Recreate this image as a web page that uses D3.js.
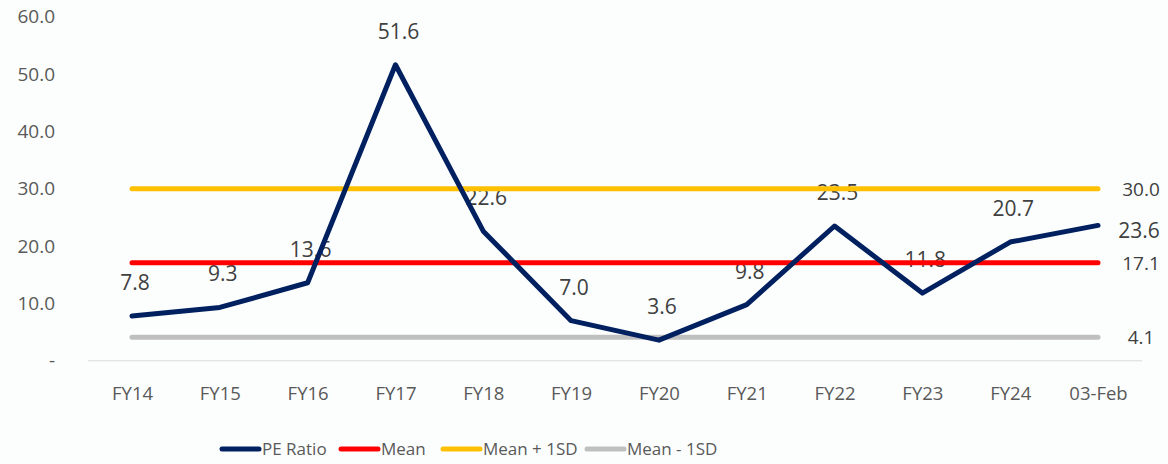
<!DOCTYPE html>
<html>
<head>
<meta charset="utf-8">
<script src="https://d3js.org/d3.v7.min.js"></script>
<style>
  body { margin: 0; background: #fcfefe; }
  text { font-family: "Open Sans", sans-serif; }
</style>
</head>
<body>
<script>
var categories = ["FY14","FY15","FY16","FY17","FY18","FY19","FY20","FY21","FY22","FY23","FY24","03-Feb"]
var peRatio = [7.8, 9.3, 13.6, 51.6, 22.6, 7.0, 3.6, 9.8, 23.5, 11.8, 20.7, 23.6]
var meanVal = 17.1
var plusSD = 30.0
var minusSD = 4.1
var yTicks = [0, 10, 20, 30, 40, 50, 60]

var width = 1168, height = 464

var svg = d3.select("body").append("svg")
  .attr("width", width)
  .attr("height", height)

var x = d3.scalePoint().domain(categories).range([132, 1098])
var y = d3.scaleLinear().domain([0, 60]).range([360.8, 16.6])

// y axis labels
var yAxis = d3.axisLeft(y).tickValues(yTicks).tickSize(0)
  .tickFormat(d => d === 0 ? "-" : d3.format(".1f")(d))
var ya = svg.append("g").attr("transform", "translate(58,0)").call(yAxis)
ya.select(".domain").remove()
ya.selectAll("text").attr("fill", "#595959").style("font-size", "19px").attr("dx", 0)

// baseline
svg.append("line")
  .attr("x1", 88).attr("x2", 1142)
  .attr("y1", y(0)).attr("y2", y(0))
  .attr("stroke", "#d9d9d9").attr("stroke-width", 1)

// x axis labels
var xAxis = d3.axisBottom(x).tickSize(0).tickPadding(0)
var xa = svg.append("g").attr("transform", "translate(0,387)").call(xAxis)
xa.select(".domain").remove()
xa.selectAll("text").attr("fill", "#595959").style("font-size", "18.5px")

// data labels (drawn under lines)
svg.append("g").selectAll("text")
  .data(peRatio.slice(0, -1))
  .enter().append("text")
  .attr("x", (d, i) => x(categories[i]) + 3)
  .attr("y", d => y(d) - 26)
  .attr("text-anchor", "middle")
  .attr("fill", "#404040")
  .style("font-size", "21px")
  .text(d => d.toFixed(1))

var series = [
  {name: "Mean - 1SD", value: minusSD, color: "#bfbfbf"},
  {name: "Mean + 1SD", value: plusSD, color: "#ffc000"},
  {name: "Mean", value: meanVal, color: "#ff0000"}
]

series.forEach(function(s) {
  svg.append("line")
    .attr("x1", x(categories[0])).attr("x2", x(categories[categories.length - 1]))
    .attr("y1", y(s.value)).attr("y2", y(s.value))
    .attr("stroke", s.color).attr("stroke-width", 5)
    .attr("stroke-linecap", "round")
  svg.append("text")
    .attr("x", 1141).attr("y", y(s.value) + 7)
    .attr("text-anchor", "middle")
    .attr("fill", "#404040")
    .style("font-size", "19px")
    .text(s.value.toFixed(1))
})

var line = d3.line()
  .x((d, i) => x(categories[i]))
  .y(d => y(d))

svg.append("path")
  .datum(peRatio)
  .attr("d", line)
  .attr("fill", "none")
  .attr("stroke", "#002060")
  .attr("stroke-width", 5)
  .attr("stroke-linejoin", "round")
  .attr("stroke-linecap", "round")

// last point label on the right
var last = peRatio[peRatio.length - 1]
svg.append("text")
  .attr("x", 1139).attr("y", y(last) + 13)
  .attr("text-anchor", "middle")
  .attr("fill", "#404040")
  .style("font-size", "21px")
  .text(last.toFixed(1))

// legend
var legend = [
  {name: "PE Ratio", color: "#002060", x: 222},
  {name: "Mean", color: "#ff0000", x: 341},
  {name: "Mean + 1SD", color: "#ffc000", x: 443},
  {name: "Mean - 1SD", color: "#bfbfbf", x: 587}
]
var lg = svg.append("g").selectAll("g").data(legend).enter().append("g")
lg.append("line")
  .attr("x1", d => d.x).attr("x2", d => d.x + 37)
  .attr("y1", 449).attr("y2", 449)
  .attr("stroke", d => d.color).attr("stroke-width", 5)
  .attr("stroke-linecap", "round")
lg.append("text")
  .attr("x", d => d.x + 40).attr("y", 455)
  .attr("fill", "#595959")
  .style("font-size", "17px")
  .text(d => d.name)
</script>
</body>
</html>
